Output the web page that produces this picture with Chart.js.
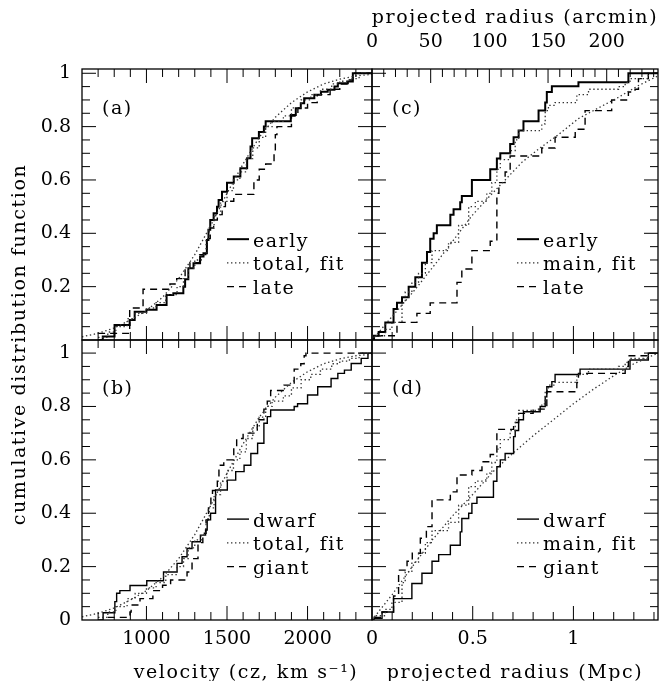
<!DOCTYPE html>
<html><head><meta charset="utf-8">
<script src="https://cdn.jsdelivr.net/npm/chart.js@4"></script>
<style>html,body{margin:0;padding:0;background:#fff}#wrap{width:660px;height:681px}</style>
</head><body><div id="wrap"><canvas id="c" width="660" height="681"></canvas></div>
<script>
// ---------------- data ----------------
// panel (a): velocity CDFs
const aEarlyV = [700, 729, 802, 896, 927, 1000, 1063, 1125, 1167, 1229, 1240, 1260, 1292, 1333, 1354, 1375, 1385, 1396, 1417, 1438, 1448, 1469, 1500, 1542, 1583, 1625, 1646, 1656, 1698, 1729, 1740, 1896, 1927, 1958, 1979, 2042, 2083, 2125, 2167, 2188, 2250, 2281, 2400];
const aEarlyF = [0, 0.013, 0.056, 0.075, 0.106, 0.113, 0.131, 0.169, 0.175, 0.2, 0.228, 0.269, 0.288, 0.313, 0.325, 0.375, 0.413, 0.45, 0.475, 0.5, 0.525, 0.556, 0.59, 0.613, 0.644, 0.681, 0.725, 0.756, 0.78, 0.8, 0.82, 0.844, 0.869, 0.888, 0.906, 0.919, 0.931, 0.938, 0.95, 0.963, 0.969, 1.0, 1.0];
const aLateV = [700, 896, 979, 1146, 1188, 1240, 1270, 1330, 1375, 1396, 1417, 1440, 1470, 1490, 1542, 1667, 1700, 1740, 1792, 1800, 1810, 1900, 1940, 2000, 2060, 2140, 2200, 2250, 2281, 2400];
const aLateF = [0.025, 0.12, 0.19, 0.21, 0.23, 0.27, 0.29, 0.32, 0.38, 0.42, 0.45, 0.47, 0.5, 0.52, 0.546, 0.6, 0.64, 0.66, 0.7, 0.77, 0.8, 0.84, 0.87, 0.89, 0.92, 0.94, 0.96, 0.975, 1.0, 1.0];
// total sample (panels a and b)
const totalV = [700, 760, 810, 880, 930, 1000, 1060, 1120, 1190, 1230, 1260, 1300, 1340, 1370, 1390, 1420, 1460, 1500, 1540, 1580, 1620, 1660, 1700, 1740, 1780, 1850, 1900, 1960, 2020, 2080, 2150, 2200, 2260, 2320, 2400];
const totalF = [0.01, 0.03, 0.05, 0.08, 0.1, 0.12, 0.14, 0.17, 0.2, 0.23, 0.27, 0.3, 0.32, 0.38, 0.42, 0.47, 0.52, 0.56, 0.6, 0.63, 0.68, 0.72, 0.76, 0.8, 0.82, 0.84, 0.87, 0.9, 0.92, 0.94, 0.96, 0.97, 0.98, 1.0, 1.0];
// smooth fit to total velocities (panels a and b)
const fitVelV = [600, 700, 800, 900, 1000, 1100, 1200, 1300, 1400, 1500, 1600, 1700, 1800, 1900, 2000, 2100, 2200, 2300, 2400];
const fitVelF = [0.012, 0.025, 0.045, 0.075, 0.11, 0.16, 0.23, 0.32, 0.43, 0.55, 0.66, 0.76, 0.835, 0.89, 0.93, 0.96, 0.978, 0.99, 0.996];
// panel (b)
const bDwarfV = [700, 731, 804, 815, 835, 898, 1002, 1106, 1190, 1221, 1252, 1283, 1335, 1367, 1377, 1398, 1429, 1502, 1554, 1606, 1648, 1690, 1729, 1750, 1771, 1917, 1938, 2000, 2063, 2146, 2188, 2229, 2271, 2333, 2375, 2400];
const bDwarfF = [0, 0.027, 0.069, 0.1, 0.11, 0.129, 0.147, 0.18, 0.212, 0.237, 0.268, 0.293, 0.318, 0.337, 0.375, 0.4, 0.487, 0.524, 0.556, 0.58, 0.624, 0.662, 0.737, 0.762, 0.787, 0.8, 0.81, 0.843, 0.874, 0.905, 0.924, 0.936, 0.961, 0.98, 1.0, 1.0];
const bGiantV = [760, 898, 905, 960, 1040, 1100, 1150, 1252, 1283, 1320, 1350, 1370, 1385, 1400, 1410, 1440, 1450, 1480, 1542, 1560, 1600, 1688, 1729, 1750, 1771, 1854, 1917, 1958, 1979, 1990, 2400];
const bGiantF = [0.01, 0.03, 0.056, 0.08, 0.11, 0.13, 0.15, 0.18, 0.23, 0.29, 0.325, 0.375, 0.42, 0.46, 0.485, 0.52, 0.58, 0.6, 0.65, 0.68, 0.7, 0.75, 0.79, 0.82, 0.86, 0.88, 0.94, 0.96, 0.99, 1.0, 1.0];
// panel (c): projected radius CDFs
const cEarlyR = [0, 0.01, 0.033, 0.066, 0.107, 0.124, 0.149, 0.182, 0.215, 0.248, 0.273, 0.289, 0.306, 0.322, 0.389, 0.405, 0.438, 0.446, 0.496, 0.587, 0.62, 0.637, 0.686, 0.703, 0.728, 0.752, 0.827, 0.86, 0.868, 0.893, 1.025, 1.273, 1.42];
const cEarlyF = [0, 0.016, 0.03, 0.066, 0.116, 0.14, 0.16, 0.2, 0.235, 0.29, 0.33, 0.38, 0.4, 0.43, 0.47, 0.49, 0.516, 0.54, 0.6, 0.64, 0.68, 0.7, 0.735, 0.76, 0.785, 0.82, 0.86, 0.89, 0.93, 0.951, 0.966, 1.0, 1.0];
const cLateR = [0.02, 0.124, 0.223, 0.289, 0.422, 0.446, 0.496, 0.587, 0.62, 0.63, 0.661, 0.686, 0.843, 0.909, 1.009, 1.058, 1.19, 1.273, 1.306, 1.323, 1.372, 1.42];
const cLateF = [0.016, 0.066, 0.1, 0.139, 0.216, 0.266, 0.335, 0.37, 0.55, 0.59, 0.63, 0.69, 0.72, 0.76, 0.79, 0.86, 0.9, 0.93, 0.94, 0.98, 1.0, 1.0];
// main sample (panels c and d)
const mainR = [0, 0.01, 0.066, 0.099, 0.149, 0.165, 0.198, 0.231, 0.265, 0.298, 0.38, 0.43, 0.48, 0.513, 0.57, 0.595, 0.62, 0.637, 0.686, 0.711, 0.728, 0.843, 0.86, 0.876, 0.909, 1.017, 1.075, 1.224, 1.257, 1.281, 1.372, 1.42];
const mainF = [0, 0.016, 0.04, 0.066, 0.14, 0.18, 0.216, 0.25, 0.29, 0.335, 0.366, 0.43, 0.5, 0.52, 0.55, 0.59, 0.64, 0.676, 0.71, 0.75, 0.785, 0.81, 0.86, 0.88, 0.89, 0.92, 0.94, 0.95, 0.965, 0.98, 1.0, 1.0];
const cFitR = [0, 0.1, 0.215, 0.33, 0.496, 0.579, 0.661, 0.744, 0.827, 0.926, 1.025, 1.124, 1.224, 1.323, 1.42];
const cFitF = [0, 0.088, 0.19, 0.3, 0.466, 0.535, 0.6, 0.666, 0.716, 0.77, 0.83, 0.87, 0.91, 0.954, 0.99];
// panel (d)
const dDwarfR = [0, 0.01, 0.05, 0.107, 0.198, 0.248, 0.298, 0.331, 0.389, 0.438, 0.446, 0.48, 0.496, 0.521, 0.603, 0.62, 0.637, 0.661, 0.703, 0.711, 0.728, 0.752, 0.835, 0.86, 0.868, 0.893, 0.909, 1.033, 1.281, 1.372, 1.42];
const dDwarfF = [0, 0.006, 0.03, 0.08, 0.137, 0.175, 0.22, 0.245, 0.28, 0.33, 0.38, 0.4, 0.437, 0.46, 0.52, 0.574, 0.6, 0.624, 0.687, 0.71, 0.75, 0.78, 0.8, 0.836, 0.874, 0.893, 0.92, 0.94, 0.974, 1.0, 1.0];
const dGiantR = [0.01, 0.05, 0.107, 0.132, 0.174, 0.2, 0.24, 0.27, 0.298, 0.389, 0.422, 0.496, 0.546, 0.587, 0.62, 0.703, 0.728, 0.8, 0.868, 1.017, 1.025, 1.257, 1.273, 1.372, 1.42];
const dGiantF = [0.01, 0.03, 0.09, 0.187, 0.22, 0.25, 0.306, 0.35, 0.45, 0.48, 0.543, 0.56, 0.593, 0.62, 0.714, 0.74, 0.774, 0.79, 0.855, 0.89, 0.924, 0.95, 0.99, 1.0, 1.0];
const dFitR = [0, 0.1, 0.2, 0.3, 0.4, 0.5, 0.6, 0.7, 0.8, 0.9, 1.0, 1.1, 1.2, 1.3, 1.42];
const dFitF = [0, 0.095, 0.2, 0.3, 0.39, 0.47, 0.555, 0.625, 0.69, 0.75, 0.81, 0.865, 0.915, 0.96, 1.0];

// tick labels
const velTickLabels = [1000, 1500, 2000];
const mpcTickLabels = [0, 0.5, 1];
const arcTickLabels = [0, 50, 100, 150, 200];
const yTopTickLabels = [0.2, 0.4, 0.6, 0.8, 1];
const yBotTickLabels = [0, 0.2, 0.4, 0.6, 0.8, 1];
// legends and labels
const legendA = ['early', 'total, fit', 'late'];
const legendB = ['dwarf', 'total, fit', 'giant'];
const legendC = ['early', 'main, fit', 'late'];
const legendD = ['dwarf', 'main, fit', 'giant'];
const panelLabels = ['(a)', '(b)', '(c)', '(d)'];
const yTitle = 'cumulative distribution function';
const velTitle = 'velocity (cz, km s\u207B\u00B9)';
const mpcTitle = 'projected radius (Mpc)';
const arcTitle = 'projected radius (arcmin)';

// ---------------- styles ----------------
const FONT = 'DejaVu Serif';
const STY = {
  solidThick: {borderColor: '#000', borderWidth: 2, borderDash: []},
  solidThin: {borderColor: '#000', borderWidth: 1.4, borderDash: []},
  dotted: {borderColor: '#333', borderWidth: 1.3, borderDash: [1.4, 2.6]},
  dashed: {borderColor: '#000', borderWidth: 1.4, borderDash: [7, 5]}
};
const pts = (xs, ys) => xs.map((x, i) => ({x: x, y: ys[i]}));
function ds(label, xs, ys, xId, yId, sty, stepped) {
  return Object.assign({label: label, data: pts(xs, ys), xAxisID: xId, yAxisID: yId,
    stepped: stepped ? 'before' : false, tension: 0, pointRadius: 0, fill: false}, sty);
}
const datasets = [
  ds('fit', fitVelV, fitVelF, 'xVel', 'yTop', STY.dotted, false),
  ds('total', totalV, totalF, 'xVel', 'yTop', STY.dotted, true),
  ds('late', aLateV, aLateF, 'xVel', 'yTop', STY.dashed, true),
  ds('early', aEarlyV, aEarlyF, 'xVel', 'yTop', STY.solidThick, true),
  ds('fit', fitVelV, fitVelF, 'xVel', 'yBot', STY.dotted, false),
  ds('total', totalV, totalF, 'xVel', 'yBot', STY.dotted, true),
  ds('giant', bGiantV, bGiantF, 'xVel', 'yBot', STY.dashed, true),
  ds('dwarf', bDwarfV, bDwarfF, 'xVel', 'yBot', STY.solidThin, true),
  ds('fit', cFitR, cFitF, 'xMpc', 'yTop', STY.dotted, false),
  ds('main', mainR, mainF, 'xMpc', 'yTop', STY.dotted, true),
  ds('late', cLateR, cLateF, 'xMpc', 'yTop', STY.dashed, true),
  ds('early', cEarlyR, cEarlyF, 'xMpc', 'yTop', STY.solidThick, true),
  ds('fit', dFitR, dFitF, 'xMpc', 'yBot', STY.dotted, false),
  ds('main', mainR, mainF, 'xMpc', 'yBot', STY.dotted, true),
  ds('giant', dGiantR, dGiantF, 'xMpc', 'yBot', STY.dashed, true),
  ds('dwarf', dDwarfR, dDwarfF, 'xMpc', 'yBot', STY.solidThin, true)
];

const panels = [
  {x: 'xVel', y: 'yTop', xTop: 'xVel', legend: legendA, label: panelLabels[0], solid: STY.solidThick},
  {x: 'xVel', y: 'yBot', xTop: 'xVel', legend: legendB, label: panelLabels[1], solid: STY.solidThin},
  {x: 'xMpc', y: 'yTop', xTop: 'xArc', legend: legendC, label: panelLabels[2], solid: STY.solidThick},
  {x: 'xMpc', y: 'yBot', xTop: 'xMpc', legend: legendD, label: panelLabels[3], solid: STY.solidThin}
];
const tickSteps = {
  xVel: [500, 100], xMpc: [0.5, 0.1], xArc: [50, 10], yTop: [0.2, 0.05], yBot: [0.2, 0.05]
};

function tickValues(scale, step) {
  const out = [];
  const k0 = Math.ceil(scale.min / step - 1e-6), k1 = Math.floor(scale.max / step + 1e-6);
  for (let k = k0; k <= k1; k++) out.push(k * step);
  return out;
}
function isMajor(v, major) { return Math.abs(v / major - Math.round(v / major)) < 1e-6; }

const framePlugin = {
  id: 'frames',
  afterDraw(chart) {
    const ctx = chart.ctx, S = chart.scales;
    ctx.save();
    ctx.strokeStyle = '#000';
    panels.forEach(p => {
      const xs = S[p.x], ys = S[p.y], xt = S[p.xTop];
      const L = xs.left, R = xs.right, T = ys.top, B = ys.bottom;
      ctx.lineWidth = 1;
      ctx.setLineDash([]);
      ctx.strokeStyle = '#000';
      ctx.beginPath();
      const [xM, xm] = tickSteps[p.x];
      tickValues(xs, xm).forEach(v => {
        const px = xs.getPixelForValue(v);
        if (px < L + 1 || px > R - 1) return;
        const len = isMajor(v, xM) ? 14 : 8;
        ctx.moveTo(px, B); ctx.lineTo(px, B - len);
      });
      const [tM, tm] = tickSteps[p.xTop];
      tickValues(xt, tm).forEach(v => {
        const px = xt.getPixelForValue(v);
        if (px < L + 1 || px > R - 1) return;
        const len = isMajor(v, tM) ? 14 : 8;
        ctx.moveTo(px, T); ctx.lineTo(px, T + len);
      });
      const [yM, ym] = tickSteps[p.y];
      tickValues(ys, ym).forEach(v => {
        const py = ys.getPixelForValue(v);
        if (py < T + 1 || py > B - 1) return;
        const len = isMajor(v, yM) ? 14 : 8;
        ctx.moveTo(L, py); ctx.lineTo(L + len, py);
        ctx.moveTo(R, py); ctx.lineTo(R - len, py);
      });
      ctx.stroke();
      ctx.lineWidth = 1.3;
      ctx.strokeRect(L, T, R - L, B - T);

      // panel label
      ctx.fillStyle = '#000';
      ctx.font = '19px "' + FONT + '"';
      ctx.letterSpacing = '1.5px';
      ctx.textAlign = 'left';
      ctx.textBaseline = 'alphabetic';
      ctx.fillText(p.label, L + 20, ys.getPixelForValue(0.846));

      // legend
      const rowF = [0.378, 0.289, 0.2];
      const styles = [p.solid, STY.dotted, STY.dashed];
      p.legend.forEach((txt, i) => {
        const y = ys.getPixelForValue(rowF[i]);
        const st = styles[i];
        ctx.beginPath();
        ctx.lineWidth = st.borderWidth;
        ctx.strokeStyle = st.borderColor;
        ctx.setLineDash(st.borderDash);
        ctx.moveTo(L + 145, y); ctx.lineTo(L + 167, y);
        ctx.stroke();
        ctx.setLineDash([]);
        ctx.strokeStyle = '#000';
        ctx.fillText(txt, L + 171, y + 7.5);
      });
    });

    // axis titles
    ctx.font = '19px "' + FONT + '"';
    ctx.letterSpacing = '1.6px';
    ctx.fillStyle = '#000';
    ctx.textAlign = 'center';
    ctx.textBaseline = 'alphabetic';
    const xv = S.xVel, xmp = S.xMpc, xa = S.xArc, yt = S.yTop, yb = S.yBot;
    ctx.fillText(velTitle, (xv.left + xv.right) / 2 + 19, 678);
    ctx.fillText(mpcTitle, (xmp.left + xmp.right) / 2, 678);
    ctx.fillText(arcTitle, (xa.left + xa.right) / 2, 23);
    ctx.save();
    ctx.translate(25, (yt.top + yb.bottom) / 2);
    ctx.rotate(-Math.PI / 2);
    ctx.fillText(yTitle, 0, 0);
    ctx.restore();
    ctx.restore();
  }
};

const tickFont = {family: FONT, size: 19};
function setTicks(arr) { return s => { s.ticks = arr.map(v => ({value: v})); }; }
function fixH(h) { return s => { s.height = h; s.paddingLeft = 0; s.paddingRight = 0; s.paddingTop = 0; s.paddingBottom = 0; }; }
function fixW(w) { return s => { s.width = w; s.paddingLeft = 0; s.paddingRight = 0; s.paddingTop = 0; s.paddingBottom = 0; }; }
const lbl = v => String(v);
const noGrid = {display: false, drawTicks: false};
const noBorder = {display: false};

new Chart(document.getElementById('c'), {
  type: 'line',
  data: {datasets: datasets},
  options: {
    responsive: false, animation: false, events: [],
    layout: {padding: {left: 0, right: 2, top: 0, bottom: 0}, autoPadding: false},
    plugins: {legend: {display: false}, tooltip: {enabled: false}, title: {display: false}},
    scales: {
      xVel: {type: 'linear', position: 'bottom', stack: 'bx', stackWeight: 290, weight: 1,
        min: 600, max: 2400, bounds: 'data', grid: noGrid, border: noBorder,
        ticks: {font: tickFont, color: '#000', padding: 8, callback: lbl, maxRotation: 0, autoSkip: false},
        afterBuildTicks: setTicks(velTickLabels), afterFit: fixH(61)},
      xMpc: {type: 'linear', position: 'bottom', stack: 'bx', stackWeight: 286, weight: 2,
        min: 0, max: 1.42, bounds: 'data', grid: noGrid, border: noBorder,
        ticks: {font: tickFont, color: '#000', padding: 8, callback: lbl, maxRotation: 0, autoSkip: false},
        afterBuildTicks: setTicks(mpcTickLabels), afterFit: fixH(61)},
      xTopL: {type: 'linear', position: 'top', stack: 'tx', stackWeight: 290, weight: 2,
        min: 600, max: 2400, bounds: 'data', grid: noGrid, border: noBorder,
        ticks: {display: false}, afterFit: fixH(69)},
      xArc: {type: 'linear', position: 'top', stack: 'tx', stackWeight: 286, weight: 1,
        min: 0, max: 243.7, bounds: 'data', grid: noGrid, border: noBorder,
        ticks: {font: tickFont, color: '#000', padding: 16, callback: lbl, maxRotation: 0, autoSkip: false},
        afterBuildTicks: setTicks(arcTickLabels), afterFit: fixH(69)},
      yTop: {type: 'linear', position: 'left', stack: 'ly', stackWeight: 271, weight: 2,
        min: 0, max: 1.016, bounds: 'data', grid: noGrid, border: noBorder,
        ticks: {font: tickFont, color: '#000', padding: 11, callback: lbl, autoSkip: false},
        afterBuildTicks: setTicks(yTopTickLabels), afterFit: fixW(82)},
      yBot: {type: 'linear', position: 'left', stack: 'ly', stackWeight: 280, weight: 1,
        min: 0, max: 1.049, bounds: 'data', grid: noGrid, border: noBorder,
        ticks: {font: tickFont, color: '#000', padding: 11, callback: lbl, autoSkip: false},
        afterBuildTicks: setTicks(yBotTickLabels), afterFit: fixW(82)}
    }
  },
  plugins: [framePlugin]
});
</script></body></html>
